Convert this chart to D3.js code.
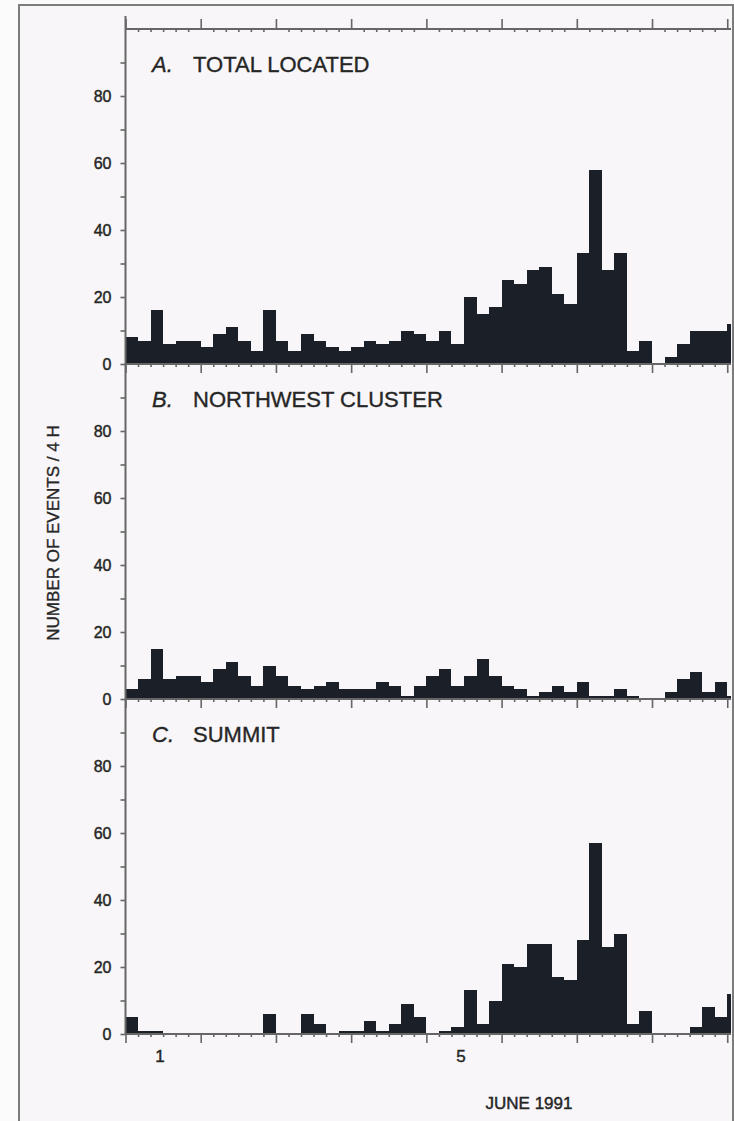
<!DOCTYPE html>
<html>
<head>
<meta charset="utf-8">
<script src="https://cdn.jsdelivr.net/npm/d3@7"></script>
<style>
  html, body { margin: 0; padding: 0; background: #fcfbfc; }
  svg { display: block; }
  text { font-family: "Liberation Sans", Arial, Helvetica, sans-serif; fill: #262626; }
  .label { stroke: #262626; stroke-width: 0.45px; }
</style>
</head>
<body>
<svg id="chart" width="734" height="1121"></svg>
<script>
// Number of located earthquakes per 4-hour interval, starting 1 June 1991 00:00
const binHours = 4;

const totalLocated = [
  8, 7, 16, 6, 7, 7, 5, 9, 11, 7, 4, 16, 7, 4, 9, 7, 5, 4, 5, 7, 6, 7, 10, 9,
  7, 10, 6, 20, 15, 17, 25, 24, 28, 29, 21, 18, 33, 58, 28, 33, 4, 7, 0, 2, 6, 10, 10, 10, 12
];

const northwestCluster = [
  3, 6, 15, 6, 7, 7, 5, 9, 11, 7, 4, 10, 7, 4, 3, 4, 5, 3, 3, 3, 5, 4, 1, 4,
  7, 9, 4, 7, 12, 7, 4, 3, 1, 2, 4, 2, 5, 1, 1, 3, 1, 0, 0, 2, 6, 8, 2, 5, 1
];

const summit = [
  5, 1, 1, 0, 0, 0, 0, 0, 0, 0, 0, 6, 0, 0, 6, 3, 0, 1, 1, 4, 1, 3, 9, 5,
  0, 1, 2, 13, 3, 10, 21, 20, 27, 27, 17, 16, 28, 57, 26, 30, 3, 7, 0, 0, 0, 2, 8, 5, 12
];

const panelLetters = ["A.", "B.", "C."];
const panelNames = ["TOTAL LOCATED", "NORTHWEST CLUSTER", "SUMMIT"];
const panelSeries = [totalLocated, northwestCluster, summit];

const yTickValues = [0, 10, 20, 30, 40, 50, 60, 70, 80, 90];
const yLabelValues = [0, 20, 40, 60, 80];
const dayLabels = [1, 5];           // days of June that carry a label
const hourSpan = 193.2;             // hours shown on the time axis
const monthLabel = "JUNE 1991";
const yTitle = "NUMBER OF EVENTS / 4 H";

const svg = d3.select("#chart");

// frame
const frame = { left: 19, top: 5, right: 733 };
svg.append("rect")
  .attr("x", frame.left).attr("y", frame.top)
  .attr("width", frame.right - frame.left).attr("height", 1130)
  .attr("fill", "#f8f6f8").attr("stroke", "#7c7c7c").attr("stroke-width", 2);

const plotLeft = 125.5, plotRight = 731;
const firstTop = 29, panelHeight = 335;
const axisColor = "#666";
const barColor = "#1b1f28";

const x = d3.scaleLinear().domain([0, hourSpan]).range([plotLeft, plotRight]);
const dayBounds = d3.range(0, hourSpan + 0.001, 24);
const minorHours = d3.range(0, hourSpan + 0.001, binHours).filter(h => h % 24 !== 0);

function styleAxis(g) {
  g.select(".domain").remove();
  g.selectAll(".tick line").attr("stroke", axisColor).attr("stroke-width", 1.6);
  g.selectAll(".tick text").attr("fill", "#262626");
}

// panels
panelSeries.forEach((series, p) => {
  const top = firstTop + p * panelHeight;
  const bottom = top + panelHeight;
  const y = d3.scaleLinear().domain([0, 100]).range([bottom, top]);
  const g = svg.append("g");

  // histogram bars
  g.append("g").selectAll("rect")
    .data(series.map((v, i) => ({ v, i })).filter(d => d.v > 0))
    .join("rect")
    .attr("x", d => x(d.i * binHours))
    .attr("width", d => Math.min(x((d.i + 1) * binHours), plotRight) - x(d.i * binHours))
    .attr("y", d => y(d.v))
    .attr("height", d => y(0) - y(d.v))
    .attr("fill", barColor)
    .attr("shape-rendering", "crispEdges");

  // left axis ticks and labels
  g.append("g")
    .attr("transform", `translate(${plotLeft},0)`)
    .call(d3.axisLeft(y).tickValues(yTickValues).tickSize(5).tickPadding(9)
      .tickFormat(d => yLabelValues.includes(d) ? d : ""))
    .call(styleAxis)
    .call(a => a.selectAll(".tick text")
      .attr("class", "label")
      .attr("font-family", null)
      .style("font-size", "16px"));

  // baseline time axis: day ticks and 4-hour minor ticks
  g.append("g")
    .attr("transform", `translate(0,${bottom})`)
    .call(d3.axisBottom(x).tickValues(dayBounds).tickSize(9).tickFormat(""))
    .call(styleAxis);
  g.append("g")
    .attr("transform", `translate(0,${bottom})`)
    .call(d3.axisBottom(x).tickValues(minorHours).tickSize(3).tickFormat(""))
    .call(styleAxis);
  g.append("line")
    .attr("x1", plotLeft).attr("x2", plotRight)
    .attr("y1", bottom).attr("y2", bottom)
    .attr("stroke", axisColor).attr("stroke-width", 2);

  // panel title
  const title = g.append("text")
    .attr("x", 152).attr("y", top + 43)
    .style("font-size", "22px")
    .attr("stroke", "#262626").attr("stroke-width", 0.35);
  title.append("tspan").style("font-style", "italic").text(panelLetters[p]);
  title.append("tspan").attr("x", 193).text(panelNames[p]);
});

// top time axis
const topAxis = svg.append("g");
topAxis.append("g")
  .attr("transform", `translate(0,${firstTop})`)
  .call(d3.axisTop(x).tickValues(dayBounds).tickSize(10).tickFormat(""))
  .call(styleAxis);
topAxis.append("g")
  .attr("transform", `translate(0,${firstTop})`)
  .call(d3.axisTop(x).tickValues(minorHours).tickSize(-3).tickFormat(""))
  .call(styleAxis);
topAxis.append("line")
  .attr("x1", plotLeft).attr("x2", plotRight)
  .attr("y1", firstTop).attr("y2", firstTop)
  .attr("stroke", axisColor).attr("stroke-width", 2);

// vertical axis line spanning all three panels
svg.append("line")
  .attr("x1", plotLeft).attr("x2", plotLeft)
  .attr("y1", 16).attr("y2", firstTop + 3 * panelHeight)
  .attr("stroke", axisColor).attr("stroke-width", 2);

// day labels under the bottom panel (centred on each day)
const lastBottom = firstTop + 3 * panelHeight;
svg.append("g").selectAll("text")
  .data(dayLabels)
  .join("text")
  .attr("class", "label")
  .attr("x", d => x((d - 1) * 24 + 12) - 3)
  .attr("y", lastBottom + 28)
  .attr("text-anchor", "middle")
  .style("font-size", "17px")
  .text(d => d);

svg.append("text")
  .attr("class", "label")
  .attr("x", 529).attr("y", lastBottom + 75)
  .attr("text-anchor", "middle")
  .style("font-size", "17px")
  .text(monthLabel);

// vertical axis title
svg.append("text")
  .attr("transform", `translate(59,533) rotate(-90)`)
  .attr("text-anchor", "middle")
  .style("font-size", "17px")
  .attr("stroke", "#262626").attr("stroke-width", 0.35)
  .text(yTitle);
</script>
</body>
</html>
